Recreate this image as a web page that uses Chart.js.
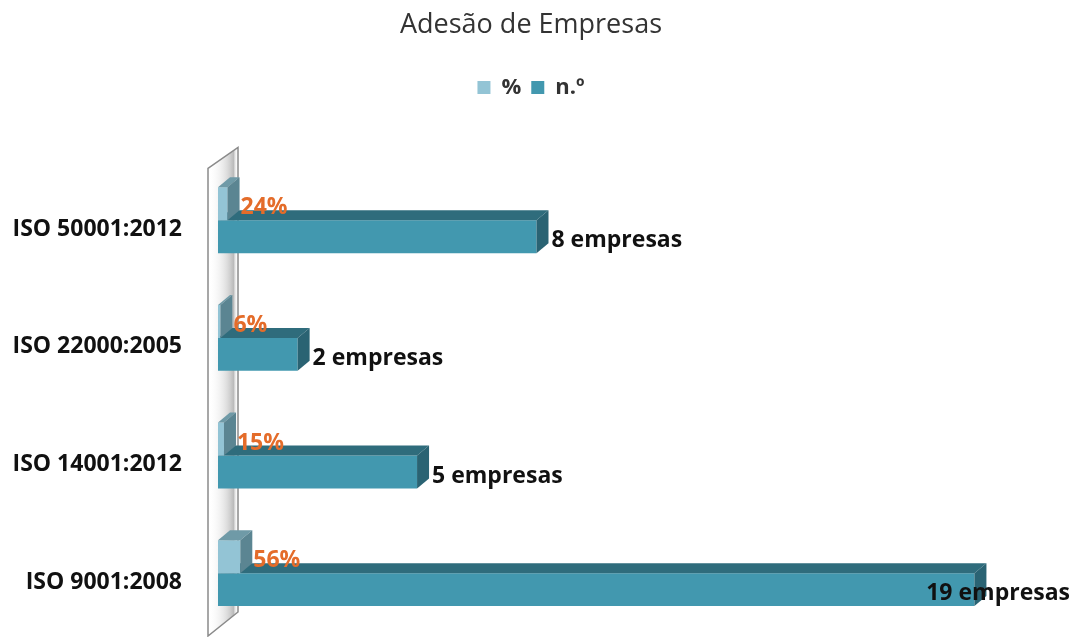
<!DOCTYPE html>
<html>
<head>
<meta charset="utf-8">
<script src="https://cdn.jsdelivr.net/npm/chart.js@4"></script>
<style>
  html, body { margin: 0; padding: 0; background: #fff; }
  #wrap { width: 1075px; height: 637px; }
</style>
</head>
<body>
<div id="wrap"><canvas id="adesaoChart"></canvas></div>
<script>
const categories = ["ISO 50001:2012", "ISO 22000:2005", "ISO 14001:2012", "ISO 9001:2008"];
const pctValues = [0.24, 0.06, 0.15, 0.56];
const pctLabels = ["24%", "6%", "15%", "56%"];
const nValues = [8, 2, 5, 19];
const nLabels = ["8 empresas", "2 empresas", "5 empresas", "19 empresas"];

const FONT = "'Open Sans', 'Noto Sans', sans-serif";
const DX = 12, DY = 10;
const faces = [
    { top: "#6f9aa7", side: "#5b8592" },   // %
    { top: "#2f6c7c", side: "#2a6373" }    // n.º
];

// parede lateral do gráfico 3D
const wallPlugin = {
    id: "wall",
    beforeDatasetsDraw(chart) {
        const c = chart.ctx, a = chart.chartArea;
        const l = a.left - 10, r = a.left + 20;
        const t = a.top + 7, b = chart.height - 1;
        c.save();
        const g = c.createLinearGradient(l, 0, r, 0);
        g.addColorStop(0, "rgba(255,255,255,0)");
        g.addColorStop(0.6, "rgba(170,170,170,0.35)");
        g.addColorStop(0.85, "rgba(120,120,120,0.5)");
        g.addColorStop(1, "rgba(255,255,255,0)");
        c.fillStyle = g;
        c.beginPath();
        c.moveTo(l, t);
        c.lineTo(r, t - 21);
        c.lineTo(r, b - 24);
        c.lineTo(l, b);
        c.closePath();
        c.fill();
        c.strokeStyle = "#8a8a8a";
        c.lineWidth = 1.5;
        c.stroke();
        c.restore();
    }
};

// faces de topo e lateral das barras
const depthPlugin = {
    id: "depth",
    afterDatasetDraw(chart, args) {
        const c = chart.ctx;
        const f = faces[args.index];
        args.meta.data.forEach(bar => {
            const p = bar.getProps(["x", "y", "base", "height"], true);
            const top = p.y - p.height / 2, bottom = p.y + p.height / 2;
            c.save();
            c.fillStyle = f.top;
            c.beginPath();
            c.moveTo(p.base, top);
            c.lineTo(p.base + DX, top - DY);
            c.lineTo(p.x + DX, top - DY);
            c.lineTo(p.x, top);
            c.closePath();
            c.fill();
            c.fillStyle = f.side;
            c.beginPath();
            c.moveTo(p.x, top);
            c.lineTo(p.x + DX, top - DY);
            c.lineTo(p.x + DX, bottom - DY);
            c.lineTo(p.x, bottom);
            c.closePath();
            c.fill();
            c.restore();
        });
    }
};

const labelPlugin = {
    id: "valueLabels",
    afterDatasetsDraw(chart) {
        const c = chart.ctx;
        c.save();
        c.font = "bold 23px " + FONT;
        c.textBaseline = "middle";
        chart.getDatasetMeta(0).data.forEach((bar, i) => {
            c.fillStyle = "#e46c2a";
            c.fillText(pctLabels[i], bar.x + DX + 1, bar.y + 4);
        });
        chart.getDatasetMeta(1).data.forEach((bar, i) => {
            const w = c.measureText(nLabels[i]).width;
            const x = Math.min(bar.x + DX + 3, chart.width - w - 5);
            c.fillStyle = "#111";
            c.fillText(nLabels[i], x, bar.y + 4);
        });
        c.restore();
    }
};

const legendSpace = {
    id: "legendSpace",
    beforeInit(chart) {
        const fit = chart.legend.fit;
        chart.legend.fit = function () {
            fit.bind(chart.legend)();
            this.height += 53;
        };
    }
};

new Chart(document.getElementById("adesaoChart"), {
    type: "bar",
    data: {
        labels: categories,
        datasets: [{
            label: "%",
            data: pctValues,
            backgroundColor: "#93c4d5"
        }, {
            label: "n.º",
            data: nValues,
            backgroundColor: "#4298af"
        }]
    },
    options: {
        indexAxis: "y",
        responsive: true,
        maintainAspectRatio: false,
        animation: false,
        categoryPercentage: 0.56,
        barPercentage: 1,
        layout: { padding: { top: 0, right: 13, bottom: 5, left: 0 } },
        plugins: {
            title: {
                display: true,
                text: "Adesão de Empresas",
                color: "#333",
                font: { family: FONT, size: 27, weight: "normal" },
                padding: { top: 9, bottom: 25 }
            },
            legend: {
                labels: {
                    color: "#333",
                    font: { family: FONT, size: 22, weight: "bold" },
                    boxWidth: 13,
                    boxHeight: 13,
                    padding: 10
                }
            },
            tooltip: { enabled: false }
        },
        scales: {
            x: {
                display: false,
                min: 0,
                max: 21.2
            },
            y: {
                grid: { display: false },
                border: { display: false },
                ticks: {
                    color: "#111",
                    padding: 28,
                    labelOffset: 9,
                    font: { family: FONT, size: 23, weight: "bold" }
                },
                afterFit(scale) {
                    scale.width = 218;
                    scale.paddingTop = 0;
                    scale.paddingBottom = 0;
                }
            }
        }
    },
    plugins: [wallPlugin, depthPlugin, labelPlugin, legendSpace]
});
</script>
</body>
</html>
